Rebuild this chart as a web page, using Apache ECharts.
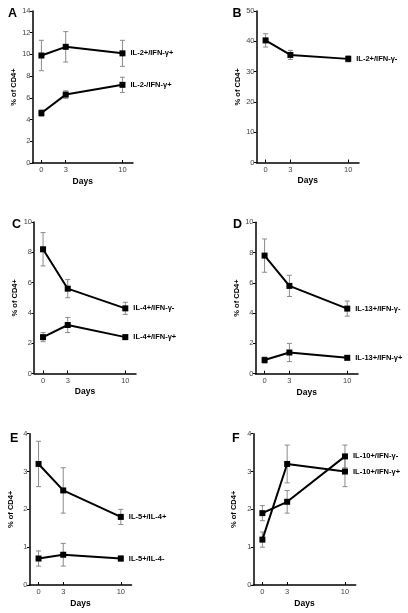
<!DOCTYPE html>
<html><head><meta charset="utf-8">
<script src="https://cdn.jsdelivr.net/npm/echarts@6/dist/echarts.min.js"></script>
<style>html,body{margin:0;padding:0;background:#fff}#c{width:408px;height:613px}</style>
</head><body><div id="c"></div>
<script>
// ---- data ----
const days = [0, 3, 10];
const dayTicks = [0, 3, 10];
const panelLetters = ['A', 'B', 'C', 'D', 'E', 'F'];
const yMaxes = [14, 50, 10, 10, 4, 4];
const ySteps = [2, 10, 2, 2, 1, 1];

const namesA = ['IL-2+/IFN-γ+', 'IL-2-/IFN-γ+'];
const meanA1 = [9.9, 10.7, 10.1]; const errA1 = [1.4, 1.4, 1.2];
const meanA2 = [4.6, 6.3, 7.2];   const errA2 = [0.3, 0.35, 0.7];

const namesB = ['IL-2+/IFN-γ-'];
const meanB1 = [40.3, 35.5, 34.2]; const errB1 = [2.2, 1.5, 1.0];

const namesC = ['IL-4+/IFN-γ-', 'IL-4+/IFN-γ+'];
const meanC1 = [8.2, 5.6, 4.3]; const errC1 = [1.1, 0.6, 0.4];
const meanC2 = [2.4, 3.2, 2.4]; const errC2 = [0.3, 0.5, 0.15];

const namesD = ['IL-13+/IFN-γ-', 'IL-13+/IFN-γ+'];
const meanD1 = [7.8, 5.8, 4.3];  const errD1 = [1.1, 0.7, 0.5];
const meanD2 = [0.9, 1.4, 1.05]; const errD2 = [0.2, 0.6, 0.15];

const namesE = ['IL-5+/IL-4+', 'IL-5+/IL-4-'];
const meanE1 = [3.2, 2.5, 1.8]; const errE1 = [0.6, 0.6, 0.2];
const meanE2 = [0.7, 0.8, 0.7]; const errE2 = [0.2, 0.3, 0.07];

const namesF = ['IL-10+/IFN-γ+', 'IL-10+/IFN-γ-'];
const meanF1 = [1.2, 3.2, 3.0]; const errF1 = [0.2, 0.5, 0.4];
const meanF2 = [1.9, 2.2, 3.4]; const errF2 = [0.2, 0.3, 0.3];

const panelSeries = [
  [[namesA[0], meanA1, errA1], [namesA[1], meanA2, errA2]],
  [[namesB[0], meanB1, errB1]],
  [[namesC[0], meanC1, errC1], [namesC[1], meanC2, errC2]],
  [[namesD[0], meanD1, errD1], [namesD[1], meanD2, errD2]],
  [[namesE[0], meanE1, errE1], [namesE[1], meanE2, errE2]],
  [[namesF[0], meanF1, errF1], [namesF[1], meanF2, errF2]]
];

// ---- layout ----
const grids = [
  {left: 32.5, top: 11, width: 100.5, height: 152},
  {left: 256.5, top: 11, width: 102.5, height: 151.5},
  {left: 34, top: 222, width: 102, height: 151.5},
  {left: 255.5, top: 222.3, width: 102.5, height: 151.4},
  {left: 29.5, top: 433.7, width: 102, height: 151.3},
  {left: 253.3, top: 433.7, width: 102.4, height: 151.3}
];
const letterPos = [[8, 7], [232.5, 7], [12, 218], [233, 218], [10, 432], [232, 432]];

const FONT = 'Liberation Sans, Arial, Helvetica, sans-serif';

function errItem(params, api) {
  const x = api.value(0), lo = api.value(1), hi = api.value(2);
  const p1 = api.coord([x, lo]), p2 = api.coord([x, hi]);
  const w = 2.5;
  const style = {stroke: '#8a8a8a', lineWidth: 1, fill: null};
  return {type: 'group', children: [
    {type: 'line', shape: {x1: p1[0], y1: p1[1], x2: p2[0], y2: p2[1]}, style},
    {type: 'line', shape: {x1: p1[0] - w, y1: p1[1], x2: p1[0] + w, y2: p1[1]}, style},
    {type: 'line', shape: {x1: p2[0] - w, y1: p2[1], x2: p2[0] + w, y2: p2[1]}, style}
  ]};
}

const option = {
  animation: false,
  backgroundColor: '#fff',
  title: panelLetters.map((t, i) => ({
    text: t, left: letterPos[i][0], top: letterPos[i][1], padding: 0,
    textStyle: {fontSize: 12.5, fontWeight: 'bold', color: '#000', fontFamily: FONT}
  })),
  grid: grids.map(g => Object.assign({containLabel: false}, g)),
  xAxis: grids.map((g, i) => ({
    type: 'value', gridIndex: i, min: -1.1, max: 11.3,
    name: 'Days', nameLocation: 'middle', nameGap: 14,
    nameTextStyle: {fontSize: 8.5, fontWeight: 'bold', color: '#000', fontFamily: FONT},
    axisLine: {onZero: false, lineStyle: {color: '#000', width: 1.5}},
    axisTick: {show: true, inside: true, length: 3, customValues: dayTicks, lineStyle: {color: '#000', width: 1}},
    axisLabel: {customValues: dayTicks, fontSize: 7.5, color: '#444', margin: 3, fontFamily: FONT},
    splitLine: {show: false}
  })),
  yAxis: grids.map((g, i) => ({
    type: 'value', gridIndex: i, min: 0, max: yMaxes[i], interval: ySteps[i],
    name: '% of CD4+', nameLocation: 'middle', nameGap: 15, nameRotate: 90,
    nameTextStyle: {fontSize: 7.5, fontWeight: 'bold', color: '#000', fontFamily: FONT},
    axisLine: {show: true, onZero: false, lineStyle: {color: '#000', width: 1.5}},
    axisTick: {show: true, inside: false, length: 2.5, lineStyle: {color: '#000', width: 1}},
    axisLabel: {fontSize: 7.5, color: '#444', margin: 2, fontFamily: FONT},
    splitLine: {show: false}
  })),
  series: []
};

panelSeries.forEach((list, pi) => {
  list.forEach(([name, mean, err]) => {
    option.series.push({
      type: 'custom', xAxisIndex: pi, yAxisIndex: pi, z: 1,
      renderItem: errItem, encode: {x: 0, y: [1, 2]},
      data: days.map((d, k) => [d, mean[k] - err[k], mean[k] + err[k]])
    });
    option.series.push({
      type: 'line', name, xAxisIndex: pi, yAxisIndex: pi, z: 3,
      symbol: 'rect', symbolSize: 6,
      itemStyle: {color: '#000'},
      lineStyle: {color: '#000', width: 2},
      data: days.map((d, k) => {
        const item = {value: [d, mean[k]]};
        if (k === days.length - 1) {
          item.label = {show: true, position: 'right', distance: 5, formatter: name,
            fontSize: 7.5, fontWeight: 'bold', color: '#000', fontFamily: FONT};
        }
        return item;
      })
    });
  });
});

const chart = echarts.init(document.getElementById('c'), null, {renderer: 'canvas'});
chart.setOption(option);
</script></body></html>
